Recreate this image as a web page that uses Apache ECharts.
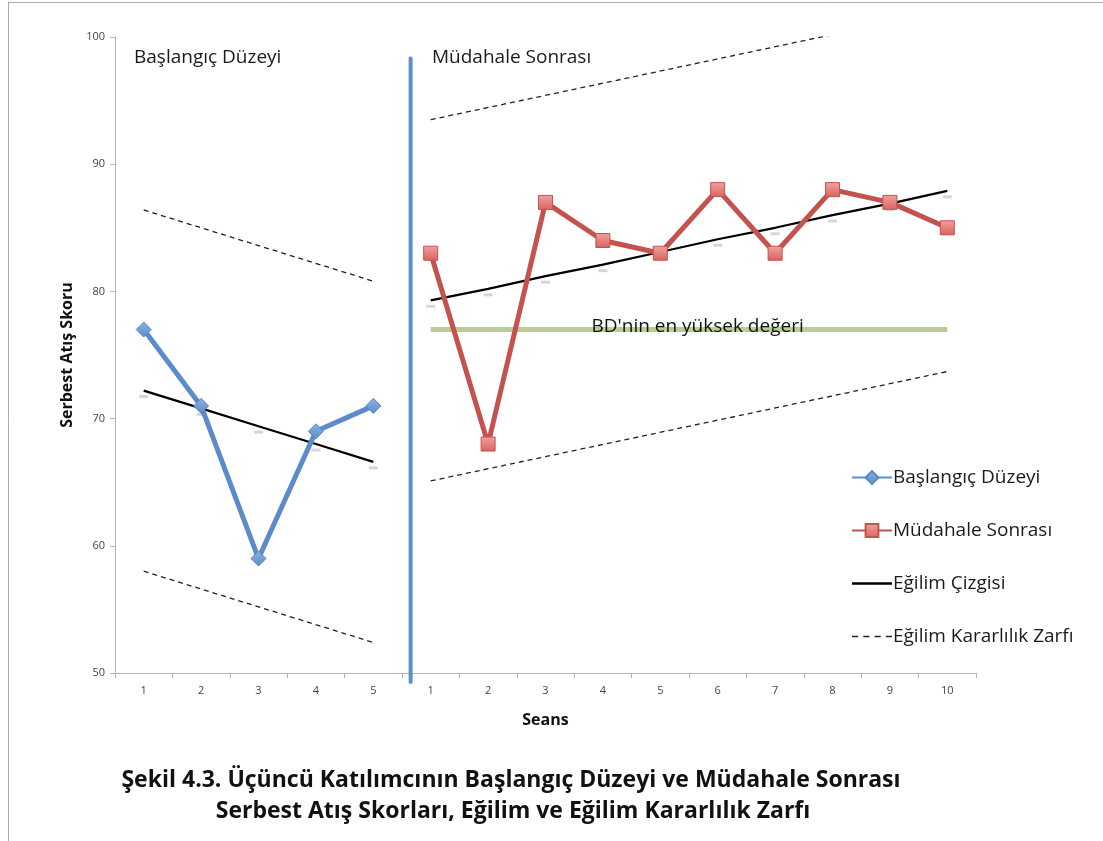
<!DOCTYPE html>
<html><head><meta charset="utf-8">
<script src="https://cdn.jsdelivr.net/npm/echarts@6/dist/echarts.min.js"></script>
<style>html,body{margin:0;padding:0;background:#fff}#c{width:1103px;height:841px}</style>
</head><body><div id="c"></div>
<script>
// ---- data ----
const sessionLabels = ['1','2','3','4','5','1','2','3','4','5','6','7','8','9','10'];
const baselineScores = [77, 71, 59, 69, 71];
const postScores = [83, 68, 87, 84, 83, 88, 83, 88, 87, 85];
const baselineTrend = [72.2, 70.8, 69.4, 68.0, 66.6];
const postTrend = [79.3, 80.2, 81.2, 82.1, 83.1, 84.1, 85.0, 86.0, 86.9, 87.9];
const baselineEnvUpper = [86.4, 80.8];   // at baseline session 1 and 5
const baselineEnvLower = [58.0, 52.4];
const postEnvUpper = [93.5, 102.1];      // at post session 1 and 10
const postEnvLower = [65.1, 73.7];
const bdMax = 77;
const phaseChange = {x: 4.65, top: 98.3, bottom: 49.3};
const yRange = {min: 50, max: 100, step: 10};

const seriesNames = ['Başlangıç Düzeyi', 'Müdahale Sonrası', 'Eğilim Çizgisi', 'Eğilim Kararlılık Zarfı'];
const bdLabel = "BD'nin en yüksek değeri";
const captionLines = ['Şekil 4.3. Üçüncü Katılımcının Başlangıç Düzeyi ve Müdahale Sonrası',
                      'Serbest Atış Skorları, Eğilim ve Eğilim Kararlılık Zarfı'];

// ---- build ----
const nB = baselineScores.length;
const nP = postScores.length;
const basePts = baselineScores.map((v, i) => [i, v]);
const postPts = postScores.map((v, i) => [nB + i, v]);
const baseTrendPts = baselineTrend.map((v, i) => [i, v]);
const postTrendPts = postTrend.map((v, i) => [nB + i, v]);
const envB_U = [[0, baselineEnvUpper[0]], [nB - 1, baselineEnvUpper[1]]];
const envB_L = [[0, baselineEnvLower[0]], [nB - 1, baselineEnvLower[1]]];
const envP_U = [[nB, postEnvUpper[0]], [nB + nP - 1, postEnvUpper[1]]];
const envP_L = [[nB, postEnvLower[0]], [nB + nP - 1, postEnvLower[1]]];
const bdMid = (nB + nB + nP - 1) / 2 + 0.15;
const bdPts = [[nB, bdMax], [nB + nP - 1, bdMax]];

const FONT = '"Open Sans", "DejaVu Sans", sans-serif';
const blue = '#5b8bc8', red = '#c4524e';

const trendDash = {
  symbol: 'rect', symbolSize: [9, 3], symbolOffset: [0, 6],
  itemStyle: {color: '#d6d6d6'}, showSymbol: true
};
const envStyle = {color: '#222', width: 1.3, type: [5, 4]};

const solidIcon = 'path://M0,0h40v2.4h-40z';
const dashIcon = 'path://M0,0h6v1.6h-6z M11,0h6v1.6h-6z M22,0h6v1.6h-6z M33,0h6v1.6h-6z';

const chart = echarts.init(document.getElementById('c'), null, {renderer: 'canvas'});
chart.setOption({
  animation: false,
  backgroundColor: '#fff',
  grid: {left: 115, right: 127, top: 37, bottom: 168},
  xAxis: [{
    type: 'category', data: sessionLabels, boundaryGap: true,
    axisLine: {lineStyle: {color: '#b5b5b5'}},
    axisTick: {show: true, length: 5, interval: 0, lineStyle: {color: '#b5b5b5'}},
    axisLabel: {color: '#444', fontSize: 11, fontFamily: FONT, margin: 12, interval: 0},
    splitLine: {show: false},
    name: 'Seans', nameLocation: 'middle', nameGap: 39,
    nameTextStyle: {fontSize: 16, fontWeight: 'bold', color: '#111', fontFamily: FONT}
  }, {
    type: 'value', min: -0.5, max: nB + nP - 0.5, show: false
  }],
  yAxis: {
    type: 'value', min: yRange.min, max: yRange.max, interval: yRange.step,
    axisLine: {show: true, onZero: false, lineStyle: {color: '#b5b5b5'}},
    axisTick: {show: true, length: 5, lineStyle: {color: '#b5b5b5'}},
    axisLabel: {color: '#444', fontSize: 11, fontFamily: FONT, margin: 10},
    splitLine: {show: false},
    name: 'Serbest Atış Skoru', nameLocation: 'middle', nameGap: 40,
    nameTextStyle: {fontSize: 16, fontWeight: 'bold', color: '#111', fontFamily: FONT}
  },
  legend: {
    orient: 'vertical', left: 846, top: 463, itemGap: 34,
    itemWidth: 40, itemHeight: 16,
    data: [
      {name: seriesNames[0]},
      {name: seriesNames[1]},
      {name: seriesNames[2], icon: solidIcon, itemStyle: {color: '#000'}},
      {name: seriesNames[3], icon: dashIcon, itemStyle: {color: '#222'}}
    ],
    textStyle: {fontSize: 19, color: '#1a1a1a', fontFamily: FONT, padding: [0,0,0,-4]}
  },
  series: [
    {
      name: '_phase', type: 'line', xAxisIndex: 1, data: [[phaseChange.x, phaseChange.top], [phaseChange.x, phaseChange.bottom]],
      symbol: 'none', clip: false, lineStyle: {color: '#5f8fca', width: 4, cap: 'round'}, z: 1, silent: true
    },
    {
      name: '_bd', type: 'line', xAxisIndex: 1, data: bdPts, symbol: 'none',
      lineStyle: {color: '#b8cf91', width: 5}, z: 2, silent: true
    },
    {
      name: '_bdLabel', type: 'scatter', xAxisIndex: 1, data: [[bdMid, bdMax]],
      symbolSize: 2, itemStyle: {color: 'rgba(0,0,0,0)', opacity: 1}, z: 6, silent: true,
      label: {show: true, position: 'inside', offset: [0, -3], formatter: bdLabel, fontSize: 19,
              color: '#111', textBorderWidth: 0, textBorderColor: 'transparent', fontFamily: FONT}
    },
    {name: seriesNames[3], type: 'line', xAxisIndex: 1, data: envB_U, symbol: 'none', lineStyle: envStyle, itemStyle: {color: '#222'}, z: 3},
    {name: seriesNames[3], type: 'line', xAxisIndex: 1, data: envB_L, symbol: 'none', lineStyle: envStyle, itemStyle: {color: '#222'}, z: 3},
    {name: seriesNames[3], type: 'line', xAxisIndex: 1, data: envP_U, symbol: 'none', lineStyle: envStyle, itemStyle: {color: '#222'}, z: 3},
    {name: seriesNames[3], type: 'line', xAxisIndex: 1, data: envP_L, symbol: 'none', lineStyle: envStyle, itemStyle: {color: '#222'}, z: 3},
    Object.assign({
      name: seriesNames[2], type: 'line', xAxisIndex: 1, data: baseTrendPts,
      lineStyle: {color: '#000', width: 2.2}, z: 4
    }, trendDash),
    Object.assign({
      name: seriesNames[2], type: 'line', xAxisIndex: 1, data: postTrendPts,
      lineStyle: {color: '#000', width: 2.2}, z: 4
    }, trendDash),
    {
      name: seriesNames[0], type: 'line', xAxisIndex: 1, data: basePts,
      symbol: 'diamond', symbolSize: 15, z: 5,
      lineStyle: {color: blue, width: 5},
      itemStyle: {color: new echarts.graphic.LinearGradient(0,0,0,1,[{offset:0,color:'#8db3e6'},{offset:1,color:'#5b8bc8'}]), borderColor: '#5a86bd', borderWidth: 1}
    },
    {
      name: seriesNames[1], type: 'line', xAxisIndex: 1, data: postPts,
      symbol: 'rect', symbolSize: 14, z: 5,
      lineStyle: {color: red, width: 5},
      itemStyle: {color: new echarts.graphic.LinearGradient(0,0,0,1,[{offset:0,color:'#f0a3a0'},{offset:1,color:'#d9625e'}]), borderColor: '#c4524e', borderWidth: 1}
    }
  ],
  graphic: [
    {type: 'text', left: 134, top: 48, style: {text: 'Başlangıç Düzeyi', font: '19px ' + FONT, fill: '#1a1a1a'}},
    {type: 'text', left: 432, top: 48, style: {text: 'Müdahale Sonrası', font: '19px ' + FONT, fill: '#1a1a1a'}},
    {type: 'text', x: 511, y: 780, style: {text: captionLines[0], font: 'bold 23px ' + FONT, fill: '#111', align: 'center', verticalAlign: 'middle'}},
    {type: 'text', x: 513, y: 811, style: {text: captionLines[1], font: 'bold 23px ' + FONT, fill: '#111', align: 'center', verticalAlign: 'middle'}},
    {type: 'line', shape: {x1: 8, y1: 2.5, x2: 1103, y2: 2.5}, style: {stroke: '#aaa', lineWidth: 1}},
    {type: 'line', shape: {x1: 8.5, y1: 2, x2: 8.5, y2: 841}, style: {stroke: '#aaa', lineWidth: 1}}
  ]
});
</script>
</body></html>
